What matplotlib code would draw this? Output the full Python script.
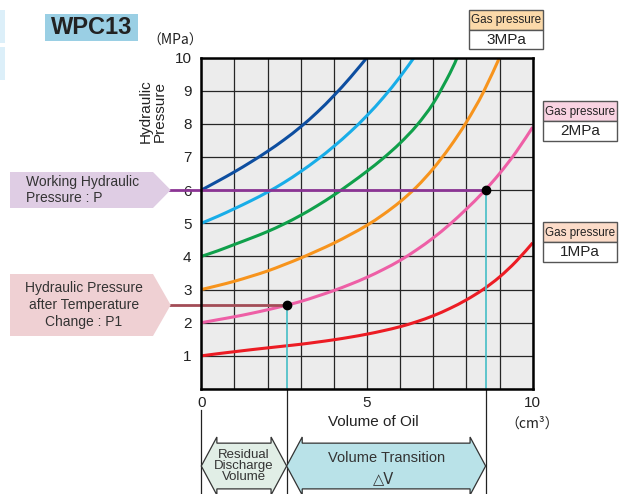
import matplotlib
matplotlib.use("Agg")
import matplotlib.pyplot as plt
import numpy as np
from matplotlib.patches import Polygon, Rectangle, PathPatch
from matplotlib.path import Path
from matplotlib.transforms import Affine2D

plt.rcParams['font.family'] = ['Liberation Sans', 'DejaVu Sans']

# ---------------- data ----------------
x_dark_blue = [0, 0.5, 1, 1.5, 2, 2.5, 3, 3.5, 4, 4.5, 5.0]
p_dark_blue = [6.0, 6.27, 6.55, 6.85, 7.17, 7.52, 7.91, 8.35, 8.85, 9.40, 10.0]

x_light_blue = [0, 0.5, 1, 1.5, 2, 2.5, 3, 3.5, 4, 4.5, 5, 5.5, 6, 6.42]
p_light_blue = [5.0, 5.21, 5.44, 5.68, 5.94, 6.23, 6.56, 6.92, 7.32, 7.76, 8.25, 8.8, 9.42, 10.0]

x_green = [0, 0.5, 1, 1.5, 2, 2.5, 3, 3.5, 4, 4.5, 5, 5.5, 6, 6.5, 7, 7.5, 7.72]
p_green = [4.0, 4.17, 4.36, 4.55, 4.75, 4.98, 5.24, 5.53, 5.85, 6.2, 6.57, 6.97, 7.42, 7.95, 8.62, 9.52, 10.0]

x_orange = [0, 0.5, 1, 1.5, 2, 2.5, 3, 3.5, 4, 4.5, 5, 5.5, 6, 6.5, 7, 7.5, 8, 8.5, 9.0]
p_orange = [3.0, 3.12, 3.25, 3.4, 3.56, 3.75, 3.95, 4.17, 4.4, 4.66, 4.94, 5.27, 5.65, 6.1, 6.65, 7.3, 8.05, 8.93, 10.0]

x_pink = [0, 0.5, 1, 1.5, 2, 2.5, 3, 3.5, 4, 4.5, 5, 5.5, 6, 6.5, 7, 7.5, 8, 8.5, 9, 9.5, 10]
p_pink = [2.0, 2.09, 2.18, 2.28, 2.39, 2.51, 2.64, 2.8, 2.97, 3.16, 3.37, 3.61, 3.88, 4.2, 4.56, 4.97, 5.43, 5.93, 6.5, 7.15, 7.9]

x_red = [0, 0.5, 1, 1.5, 2, 2.5, 3, 3.5, 4, 4.5, 5, 5.5, 6, 6.5, 7, 7.5, 8, 8.5, 9, 9.5, 10]
p_red = [1.0, 1.065, 1.125, 1.185, 1.24, 1.295, 1.35, 1.415, 1.485, 1.565, 1.655, 1.76, 1.88, 2.03, 2.21, 2.43, 2.69, 3.0, 3.38, 3.85, 4.41]

working_P = 6.0
working_V = 8.58
after_P1 = 2.53
after_V = 2.575

x_ticks = [0, 5, 10]
y_ticks = [1, 2, 3, 4, 5, 6, 7, 8, 9, 10]

series_colors = ['#0D4EA0', '#18ADE8', '#10A04B', '#F7941D', '#EE5FA6', '#EC1C24']
gas_labels = ['3MPa', '2MPa', '1MPa']


def smooth_path(xs, ys):
    """Smooth Bezier path through the read points (Catmull-Rom)."""
    pts = np.column_stack([xs, ys]).astype(float)
    n = len(pts)
    verts = [tuple(pts[0])]
    codes = [Path.MOVETO]
    for i in range(n - 1):
        p0 = pts[i - 1] if i > 0 else pts[i]
        p1 = pts[i]
        p2 = pts[i + 1]
        p3 = pts[i + 2] if i + 2 < n else pts[i + 1]
        c1 = p1 + (p2 - p0) / 6.0
        c2 = p2 - (p3 - p1) / 6.0
        verts += [tuple(c1), tuple(c2), tuple(p2)]
        codes += [Path.CURVE4] * 3
    return Path(verts, codes)


# ---------------- figure ----------------
W, H = 625, 494
fig = plt.figure(figsize=(W / 100, H / 100), dpi=100)
pix = Affine2D().scale(1 / W, -1 / H).translate(0, 1) + fig.transFigure

ax_l, ax_r, ax_t, ax_b = 201.3, 532.7, 57.5, 389.0
ax = fig.add_axes([ax_l / W, 1 - ax_b / H, (ax_r - ax_l) / W, (ax_b - ax_t) / H])
ax.set_xlim(0, 10)
ax.set_ylim(0, 10)
ax.set_facecolor('#ECECEC')
for s in ax.spines.values():
    s.set_linewidth(1.8)
    s.set_color('black')
    s.set_zorder(6)

ax.set_xticks(range(0, 11))
ax.set_yticks(range(0, 11))
ax.grid(True, color='#262626', linewidth=0.9)
ax.set_axisbelow(True)
ax.set_xticklabels([str(v) if v in x_ticks else '' for v in range(0, 11)])
ax.set_yticklabels([str(v) if v in y_ticks else '' for v in range(0, 11)])
ax.tick_params(axis='both', length=0, labelsize=11, colors='#222222')
ax.tick_params(axis='y', pad=7)
ax.tick_params(axis='x', pad=5)

for xs, ps, c in zip([x_dark_blue, x_light_blue, x_green, x_orange, x_pink, x_red],
                     [p_dark_blue, p_light_blue, p_green, p_orange, p_pink, p_red],
                     series_colors):
    ax.add_patch(PathPatch(smooth_path(xs, ps), facecolor='none', edgecolor=c,
                           linewidth=2.2, zorder=3, capstyle='butt'))

# reference lines
ax.plot([-0.95, working_V], [working_P, working_P], color='#8B3494', linewidth=2.0,
        clip_on=False, zorder=4)
ax.plot([-0.95, after_V], [after_P1, after_P1], color='#A24C56', linewidth=2.0,
        clip_on=False, zorder=4)
ax.plot([working_V, working_V], [0, working_P], color='#45BEC6', linewidth=1.2, zorder=4)
ax.plot([after_V, after_V], [0, after_P1], color='#45BEC6', linewidth=1.2, zorder=4)
ax.plot([working_V], [working_P], 'o', color='black', markersize=6, zorder=5)
ax.plot([after_V], [after_P1], 'o', color='black', markersize=6, zorder=5)

# lines below the axis
ybot = (ax_b - 495) / 33.14
for xv, ytop in [(0, -0.63), (after_V, 0), (working_V, 0)]:
    ax.plot([xv, xv], [ytop, ybot], color='#222222', linewidth=0.9, clip_on=False)


def dbl_arrow(x0, x1, fc):
    yc = (ax_b - 466) / 33.14
    hb, hh, hl = 0.69, 0.875, 0.47
    pts = [(x0, yc), (x0 + hl, yc + hh), (x0 + hl, yc + hb), (x1 - hl, yc + hb),
           (x1 - hl, yc + hh), (x1, yc), (x1 - hl, yc - hh), (x1 - hl, yc - hb),
           (x0 + hl, yc - hb), (x0 + hl, yc - hh)]
    ax.add_patch(Polygon(pts, closed=True, facecolor=fc, edgecolor='#333333',
                         linewidth=0.9, clip_on=False, zorder=2))


dbl_arrow(0, after_V, '#E1EEE6')
dbl_arrow(after_V, working_V, '#B9E2E8')

# ---------------- texts ----------------
fig.text(373, 422, 'Volume of Oil', transform=pix, ha='center', va='center',
         fontsize=11, color='#222222')
fig.text(532, 424, '（cm³）', transform=pix, ha='center', va='center', fontsize=10,
         color='#222222', family=['Noto Sans CJK JP', 'DejaVu Sans'])
fig.text(175, 41, '（MPa）', transform=pix, ha='center', va='center', fontsize=10,
         color='#222222', family=['Noto Sans CJK JP', 'DejaVu Sans'])
fig.text(153, 111, 'Hydraulic\nPressure', transform=pix, ha='center', va='center',
         rotation=90, fontsize=11, color='#222222', linespacing=1.0)

fig.text(244, 466, 'Residual\nDischarge\nVolume', transform=pix, ha='center', va='center',
         fontsize=9.5, color='#333333', linespacing=0.85)
fig.text(387, 458, 'Volume Transition', transform=pix, ha='center', va='center',
         fontsize=10.5, color='#333333')
fig.text(384, 479, '△V', transform=pix, ha='center', va='center',
         fontsize=10.5, color='#333333', family=['DejaVu Sans'])

# title
fig.patches.append(Rectangle((45, 14), 93, 27, transform=pix, facecolor='#9ACFE4',
                             edgecolor='none'))
fig.text(91.5, 28, 'WPC13', transform=pix, ha='center', va='center', fontsize=17,
         fontweight='bold', color='#222222')

# faint side tabs
fig.patches.append(Rectangle((0, 10), 5, 33, transform=pix, facecolor='#DCEFF9', edgecolor='none'))
fig.patches.append(Rectangle((0, 47), 5, 33, transform=pix, facecolor='#DCEFF9', edgecolor='none'))

# left pentagon labels
fig.patches.append(Polygon([(10, 172), (153, 172), (170.7, 190), (153, 208), (10, 208)],
                           closed=True, transform=pix, facecolor='#DFCDE4', edgecolor='none'))
fig.text(26, 190, 'Working Hydraulic\nPressure : P', transform=pix, ha='left', va='center',
         fontsize=10, color='#333333', linespacing=1.2)
fig.patches.append(Polygon([(10, 274), (153, 274), (170.7, 305), (153, 336), (10, 336)],
                           closed=True, transform=pix, facecolor='#EFD0D3', edgecolor='none'))
fig.text(84, 305, 'Hydraulic Pressure\nafter Temperature\nChange : P1', transform=pix,
         ha='center', va='center', fontsize=10, color='#333333', linespacing=1.25)

# gas pressure boxes
gas_boxes = [((469, 10), '#FBD9A9'), ((543, 101), '#F9D3E2'), ((543, 222), '#FCDCC9')]
for ((bx, by), fc), lab in zip(gas_boxes, gas_labels):
    bw, bh = 74, 20
    fig.patches.append(Rectangle((bx, by), bw, bh, transform=pix, facecolor=fc,
                                 edgecolor='#555555', linewidth=1.0))
    fig.patches.append(Rectangle((bx, by + bh), bw, bh - 0.5, transform=pix, facecolor='white',
                                 edgecolor='#555555', linewidth=1.0))
    fig.text(bx + bw / 2, by + bh / 2 + 0.5, 'Gas pressure', transform=pix, ha='center',
             va='center', fontsize=8.4, color='#222222')
    fig.text(bx + bw / 2, by + bh * 1.5, lab, transform=pix, ha='center', va='center',
             fontsize=11, color='#222222')

fig.savefig('out.png', dpi=100)
